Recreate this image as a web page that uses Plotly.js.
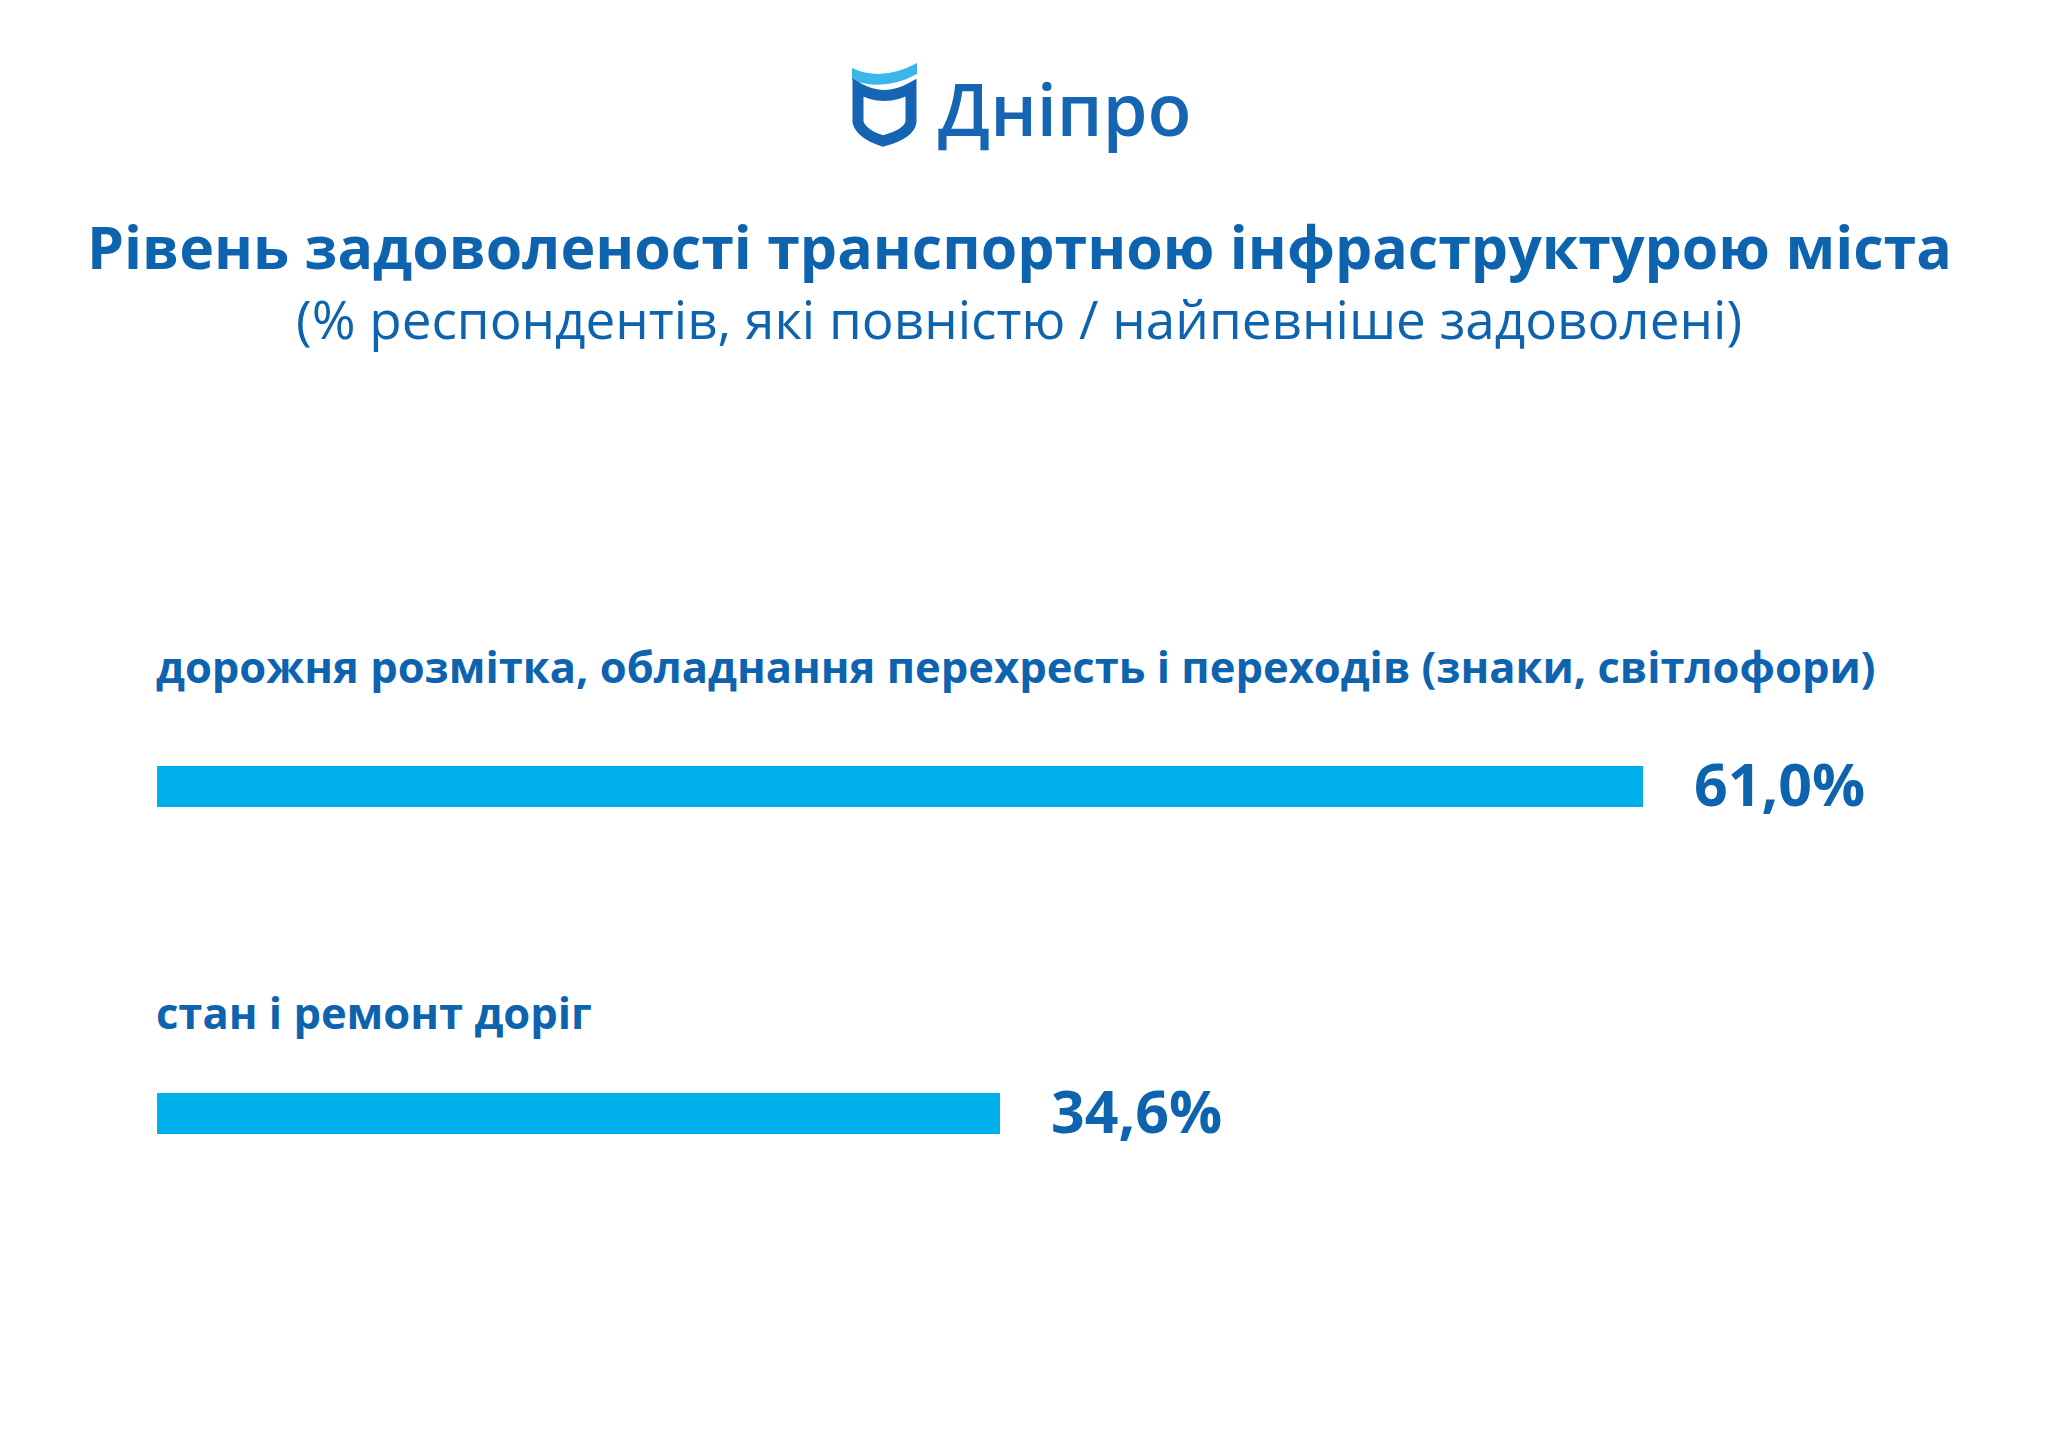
<!DOCTYPE html>
<html>
<head>
<meta charset="utf-8">
<script src="https://cdn.plot.ly/plotly-3.0.1.min.js"></script>
<style>html,body{margin:0;padding:0;background:#fff;}#chart{width:2048px;height:1448px;}</style>
</head>
<body>
<div id="chart"></div>
<script>
// ---- data ----
const categories = [
  "дорожня розмітка, обладнання перехресть і переходів (знаки, світлофори)",
  "стан і ремонт доріг"
];
const values = [61.0, 34.6];
const valueLabels = ["61,0%", "34,6%"];
const titleText = "Рівень задоволеності транспортною інфраструктурою міста";
const subtitleText = "(% респондентів, які повністю / найпевніше задоволені)";
const logoText = "Дніпро";

// ---- layout geometry ----
const W = 2048, H = 1448, ML = 157, MR = 0;
const PW = W - ML - MR;
const px = x => (x - ML) / PW;
const py = y => 1 - y / H;
const textBlue = "#0d63ae";
const barBlue = "#00b0ea";
const FONT = "Open Sans, Noto Sans, sans-serif";
const pxPerUnit = (1643 - ML) / 61.0;
const xMax = PW / pxPerUnit;
// category index 0 at y=786px, 1 at y=1113px
const unit = 1113 - 786;
const yTop = 0 - 786 / unit;
const yBot = 1 + (H - 1113) / unit;
const labelShift = [120, 101];

function pathFrom(cmds) {
  return cmds.map(c => {
    const op = c[0];
    const pts = [];
    for (let i = 1; i < c.length; i += 2) pts.push(px(c[i]).toFixed(5) + "," + py(c[i + 1]).toFixed(5));
    return op + " " + pts.join(" ");
  }).join(" ");
}

const wavePath = pathFrom([
  ["M", 852, 68], ["Q", 882, 82, 917, 63], ["L", 917, 74], ["Q", 884, 92, 852, 80], ["Z"]
]);
const shieldPath = pathFrom([
  ["M", 858, 88], ["Q", 884, 103, 911, 88], ["L", 911, 122], ["Q", 909, 134, 883, 141],
  ["Q", 861, 134, 858, 122], ["Z"]
]);

const trace = {
  type: "bar",
  orientation: "h",
  x: values,
  y: categories,
  width: 41 / unit,
  marker: { color: barBlue, line: { width: 0 } },
  hoverinfo: "none",
  showlegend: false
};

const annotations = [];
categories.forEach((c, i) => {
  annotations.push({
    x: 0, y: c, xref: "x", yref: "y", xanchor: "left", yanchor: "middle",
    xshift: -3, yshift: labelShift[i], showarrow: false,
    text: "<b>" + c + "</b>",
    font: { family: FONT, size: 43.5, color: textBlue }
  });
  annotations.push({
    x: values[i], y: c, xref: "x", yref: "y", xanchor: "left", yanchor: "middle",
    xshift: 49, yshift: 3, showarrow: false,
    text: "<b>" + valueLabels[i] + "</b>",
    font: { family: FONT, size: 59, color: textBlue }
  });
});
annotations.push({
  x: px(1019), y: py(246), xref: "paper", yref: "paper", xanchor: "center", yanchor: "middle",
  showarrow: false, text: "<b>" + titleText + "</b>",
  font: { family: FONT, size: 59, color: textBlue }
});
annotations.push({
  x: px(1019), y: py(318), xref: "paper", yref: "paper", xanchor: "center", yanchor: "middle",
  showarrow: false, text: subtitleText,
  font: { family: FONT, size: 53, color: textBlue }
});
annotations.push({
  x: px(936), y: py(108), xref: "paper", yref: "paper", xanchor: "left", yanchor: "middle",
  showarrow: false, text: logoText,
  font: { family: FONT, size: 72, color: "#1565b2", weight: 600 }
});

const layout = {
  width: W, height: H,
  margin: { l: ML, r: MR, t: 0, b: 0, pad: 0 },
  paper_bgcolor: "#ffffff",
  plot_bgcolor: "#ffffff",
  xaxis: { range: [0, xMax], visible: false, fixedrange: true },
  yaxis: { type: "category", range: [yBot, yTop], visible: false, fixedrange: true },
  bargap: 0,
  annotations: annotations,
  shapes: [
    { type: "path", xref: "paper", yref: "paper", path: wavePath,
      fillcolor: "#3cb6ea", line: { width: 0 } },
    { type: "path", xref: "paper", yref: "paper", path: shieldPath,
      fillcolor: "rgba(0,0,0,0)", line: { color: "#1565b2", width: 11 } }
  ]
};

Plotly.newPlot("chart", [trace], layout, { displayModeBar: false, staticPlot: true });
</script>
</body>
</html>
